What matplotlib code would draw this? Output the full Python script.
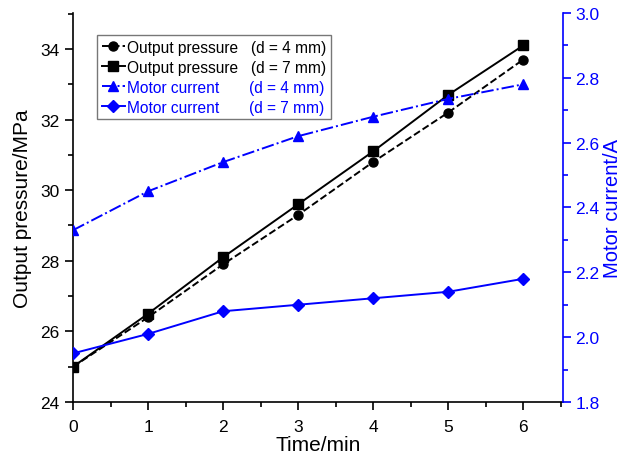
import matplotlib.pyplot as plt
from matplotlib.ticker import MultipleLocator

plt.rcParams['font.family'] = ['Liberation Sans', 'DejaVu Sans']

# Data
time = [0, 1, 2, 3, 4, 5, 6]
pressure_d4 = [25.0, 26.4, 27.9, 29.3, 30.8, 32.2, 33.7]
pressure_d7 = [25.0, 26.5, 28.1, 29.6, 31.1, 32.7, 34.1]
current_d4 = [2.33, 2.45, 2.54, 2.62, 2.68, 2.735, 2.78]
current_d7 = [1.95, 2.01, 2.08, 2.10, 2.12, 2.14, 2.18]

fig = plt.figure(figsize=(6.21, 4.60), dpi=100)
ax = fig.add_axes([0.1176, 0.1239, 0.789, 0.8457])
ax2 = ax.twinx()

l1, = ax.plot(time, pressure_d4, color="black", linestyle="--", marker="o",
              markersize=6.5, linewidth=1.4, label="Output pressure   (d = 4 mm)")
l2, = ax.plot(time, pressure_d7, color="black", linestyle="-", marker="s",
              markersize=6.5, linewidth=1.4, label="Output pressure   (d = 7 mm)")
l3, = ax2.plot(time, current_d4, color="blue", linestyle="-.", marker="^",
               markersize=6.5, linewidth=1.4, label="Motor current       (d = 4 mm)")
l4, = ax2.plot(time, current_d7, color="blue", linestyle="-", marker="D",
               markersize=6, linewidth=1.4, label="Motor current       (d = 7 mm)")

ax.set_xlim(0, 6.53)
ax.set_ylim(24, 35.02)

ax.xaxis.set_major_locator(MultipleLocator(1))
ax.xaxis.set_minor_locator(MultipleLocator(0.5))
ax.yaxis.set_major_locator(MultipleLocator(2))
ax.yaxis.set_minor_locator(MultipleLocator(1))
ax2.set_yticks([1.8, 2.0, 2.2, 2.4, 2.6, 2.8, 3.0])
ax2.set_yticklabels(["1.8", "2.0", "2.2", "2.4", "2.6", "2.8", "3.0"])
ax2.yaxis.set_minor_locator(MultipleLocator(0.1))
ax2.set_ylim(1.8, 3.0)

ax.tick_params(axis="both", which="major", direction="out", length=6, width=1.2,
               labelsize=12.5, pad=4)
ax.tick_params(axis="x", which="major", pad=6)
ax.tick_params(axis="both", which="minor", direction="out", length=3.5, width=1.2)
ax2.tick_params(axis="y", which="major", direction="out", length=6, width=1.2,
                colors="blue", labelsize=12.5, pad=3)
ax2.tick_params(axis="y", which="minor", direction="out", length=3.5, width=1.2, colors="blue")

for a in (ax, ax2):
    a.spines["top"].set_visible(False)
    a.spines["left"].set_linewidth(1.2)
    a.spines["bottom"].set_linewidth(1.2)
    a.spines["right"].set_linewidth(1.2)
ax.spines["right"].set_visible(False)
ax2.spines["left"].set_visible(False)
ax2.spines["bottom"].set_visible(False)
ax2.spines["right"].set_color("blue")

ax.set_xlabel("Time/min", fontsize=15, labelpad=1)
ax.set_ylabel("Output pressure/MPa", fontsize=15, labelpad=6)
ax2.set_ylabel("Motor current/A", fontsize=14.5, color="blue", labelpad=2)

leg = ax.legend(handles=[l1, l2, l3, l4], loc="upper left",
                bbox_to_anchor=(0.049, 0.943), fontsize=11.2, frameon=True,
                fancybox=False, edgecolor="#555555", handlelength=1.5,
                handletextpad=0.1, borderpad=0.3, labelspacing=0.32,
                borderaxespad=0)
leg.get_frame().set_linewidth(1.0)
for txt, line in zip(leg.get_texts(), [l1, l2, l3, l4]):
    txt.set_color(line.get_color())

fig.savefig("out.png", dpi=100)
